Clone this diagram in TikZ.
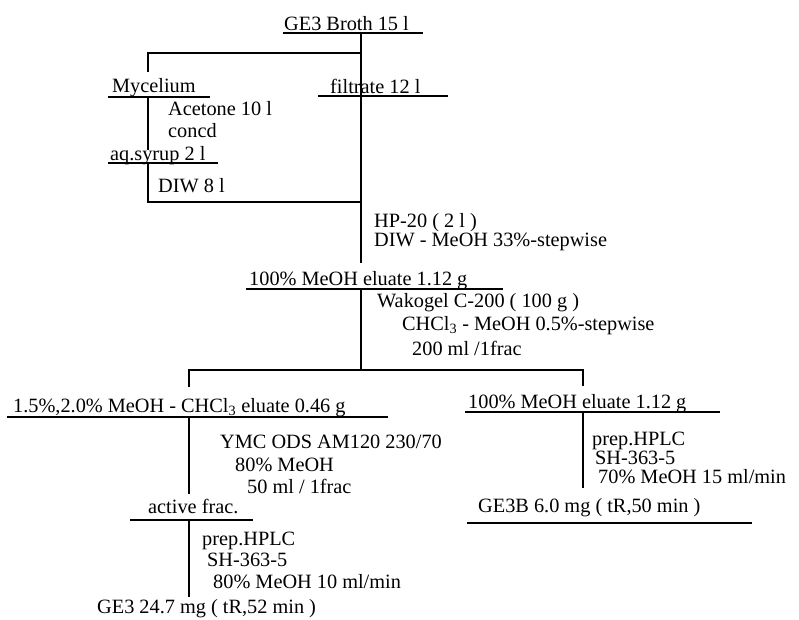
\documentclass[tikz,border=0pt]{standalone}
\usepackage{fontspec}
\setmainfont{Liberation Serif}
\begin{document}
\begin{tikzpicture}[x=1pt,y=-1pt,
  lbl/.style={anchor=base west,inner sep=0pt,font=\fontsize{20.3}{21}\selectfont},
  ln/.style={line width=1.4pt}]
\useasboundingbox (0,0) rectangle (799,619);
% labels
\node[lbl] (broth) at (284,30) {GE3 Broth 15 l};
\node[lbl] (myc) at (112,92) {Mycelium};
\node[lbl] (filt) at (330,93) {filtrate 12 l};
\node[lbl] (acet) at (168,115) {Acetone 10 l};
\node[lbl] (concd) at (168,137) {concd};
\node[lbl] (syrup) at (110,160) {aq.syrup 2 l};
\node[lbl] (diw) at (158,192) {DIW 8 l};
\node[lbl] (hp) at (374,227) {HP-20 ( 2 l )};
\node[lbl] (diwm) at (374,246) {DIW - MeOH 33\%-stepwise};
\node[lbl] (elu1) at (249,285) {100\% MeOH eluate 1.12 g};
\node[lbl] (wako) at (377,307) {Wakogel C-200 ( 100 g )};
\node[lbl] (chcl) at (402,330) {CHCl\textsubscript{3} - MeOH 0.5\%-stepwise};
\node[lbl] (ml200) at (412,355) {200 ml /1frac};
\node[lbl] (elu2) at (13,412) {1.5\%,2.0\% MeOH - CHCl\textsubscript{3} eluate 0.46 g};
\node[lbl] (ymc) at (220,448) {YMC ODS AM120 230/70};
\node[lbl] (m80) at (235,471) {80\% MeOH};
\node[lbl] (ml50) at (247,493) {50 ml / 1frac};
\node[lbl] (act) at (148,513) {active frac.};
\node[lbl] (hplc1) at (202,545) {prep.HPLC};
\node[lbl] (sh1) at (207,566) {SH-363-5};
\node[lbl] (m80b) at (213,588) {80\% MeOH 10 ml/min};
\node[lbl] (ge3) at (97,613) {GE3 24.7 mg ( tR,52 min )};
\node[lbl] (elu3) at (468,408) {100\% MeOH eluate 1.12 g};
\node[lbl] (hplc2) at (592,445) {prep.HPLC};
\node[lbl] (sh2) at (595,464) {SH-363-5};
\node[lbl] (m70) at (598,483) {70\% MeOH 15 ml/min};
\node[lbl] (ge3b) at (478,512) {GE3B 6.0 mg ( tR,50 min )};
% underlines
\draw[ln] (283,33) -- (423,33);
\draw[ln] (108,97) -- (210,97);
\draw[ln] (318,96) -- (448,96);
\draw[ln] (108,163) -- (218,163);
\draw[ln] (246,289) -- (503,289);
\draw[ln] (7,417) -- (388,417);
\draw[ln] (130,520) -- (253,520);
\draw[ln] (465,412) -- (720,412);
\draw[ln] (467,523) -- (752,523);
% connectors
\coordinate (top) at (361,33);
\coordinate (split) at (361,53);
\coordinate (mycTop) at (148,53);
\draw[ln] (top) -- (361,263);
\draw[ln] (split) -- (mycTop) -- (148,72);
\draw[ln] (148,97) -- (148,150);
\draw[ln] (148,163) -- (148,202) -- (361,202);
\draw[ln] (361,289) -- (361,370);
\draw[ln] (189,387) -- (189,370) -- (583,370) -- (583,386);
\draw[ln] (189,417) -- (189,494);
\draw[ln] (189,520) -- (189,597);
\draw[ln] (583,412) -- (583,488);
\end{tikzpicture}
\end{document}
